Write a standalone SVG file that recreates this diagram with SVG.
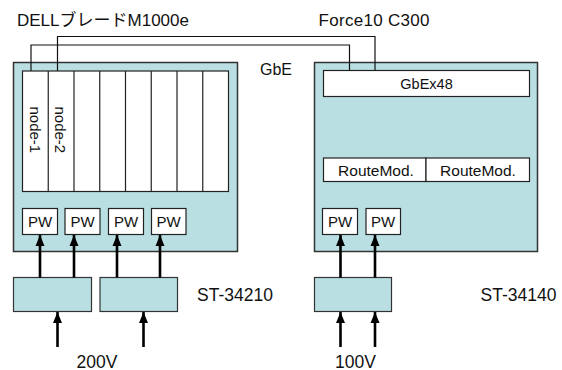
<svg xmlns="http://www.w3.org/2000/svg" width="562" height="370" viewBox="0 0 562 370">
<defs>
<style>
.chassis{fill:#b9dfe2;stroke:#333;stroke-width:1.5}
.psu{fill:#b9dfe2;stroke:#333;stroke-width:1.2}
.wbox{fill:#fff;stroke:#222;stroke-width:1.2}
.div{stroke:#222;stroke-width:1.2}
.link{fill:none;stroke:#111;stroke-width:1.2}
.pwr{fill:none;stroke:#000;stroke-width:2.6;marker-end:url(#ah)}
text{font-family:"Liberation Sans","Noto Sans CJK JP",sans-serif;fill:#111}
.lbl{font-size:17px}
.sm{font-size:15px}
</style>
<marker id="ah" markerUnits="userSpaceOnUse" markerWidth="12" markerHeight="12" viewBox="0 0 12 12" refX="11" refY="6" orient="auto">
<path d="M0,1.5 L11,6 L0,10.5 Z" fill="#000"/>
</marker>
</defs>

<g id="labels">
<text class="lbl" x="17" y="26">DELLブレードM1000e</text>
<text class="lbl" x="318.5" y="25.5" textLength="111" lengthAdjust="spacing">Force10 C300</text>
<text class="lbl" x="260" y="75" style="font-size:16px">GbE</text>
<text class="lbl" x="197" y="225">3+1</text>
<text class="lbl" x="421.5" y="225">1+1</text>
<text class="lbl" x="197" y="301" style="font-size:17.5px">ST-34210</text>
<text class="lbl" x="480.5" y="301" style="font-size:17.5px">ST-34140</text>
<text class="lbl" x="76.5" y="367.5" style="font-size:17.5px">200V</text>
<text class="lbl" x="335" y="367.5" style="font-size:17.5px">100V</text>
</g>

<g id="dell-chassis">
<rect class="chassis" x="13.5" y="62.5" width="224" height="189"/>
<rect class="wbox" x="22.5" y="71" width="206" height="120.5"/>
<line class="div" x1="48.25" y1="71" x2="48.25" y2="191.5"/>
<line class="div" x1="74" y1="71" x2="74" y2="191.5"/>
<line class="div" x1="99.75" y1="71" x2="99.75" y2="191.5"/>
<line class="div" x1="125.5" y1="71" x2="125.5" y2="191.5"/>
<line class="div" x1="151.25" y1="71" x2="151.25" y2="191.5"/>
<line class="div" x1="177" y1="71" x2="177" y2="191.5"/>
<line class="div" x1="202.75" y1="71" x2="202.75" y2="191.5"/>
</g>
<g id="node-1"><text class="sm" transform="translate(30,106.5) rotate(90)">node-1</text></g>
<g id="node-2"><text class="sm" transform="translate(54.5,106.5) rotate(90)">node-2</text></g>
<g id="dell-pw-1"><rect class="wbox" x="22.5" y="208.5" width="35" height="26"/><text class="sm" x="40" y="227" text-anchor="middle">PW</text></g>
<g id="dell-pw-2"><rect class="wbox" x="65" y="208.5" width="35" height="26"/><text class="sm" x="82.5" y="227" text-anchor="middle">PW</text></g>
<g id="dell-pw-3"><rect class="wbox" x="108.5" y="208.5" width="35" height="26"/><text class="sm" x="126" y="227" text-anchor="middle">PW</text></g>
<g id="dell-pw-4"><rect class="wbox" x="151.5" y="208.5" width="34.5" height="26"/><text class="sm" x="168.7" y="227" text-anchor="middle">PW</text></g>

<g id="force10-chassis">
<rect class="chassis" x="314.5" y="62.5" width="223" height="189"/>
</g>
<g id="gbex48"><rect class="wbox" x="323.5" y="70.5" width="206" height="26"/><text class="sm" x="426.5" y="89" text-anchor="middle" style="font-size:14.5px">GbEx48</text></g>
<g id="routemod-1"><rect class="wbox" x="323.5" y="158" width="102.5" height="23.5"/><text class="sm" x="376" y="176" text-anchor="middle" style="font-size:15.5px">RouteMod.</text></g>
<g id="routemod-2"><rect class="wbox" x="426" y="158" width="103.5" height="23.5"/><text class="sm" x="478" y="176" text-anchor="middle" style="font-size:15.5px">RouteMod.</text></g>
<g id="f10-pw-1"><rect class="wbox" x="322.5" y="208.5" width="35" height="26"/><text class="sm" x="340" y="227" text-anchor="middle">PW</text></g>
<g id="f10-pw-2"><rect class="wbox" x="366" y="208.5" width="34.5" height="26"/><text class="sm" x="383.2" y="227" text-anchor="middle">PW</text></g>

<g id="psu-1"><rect class="psu" x="13.5" y="277.5" width="78" height="34"/></g>
<g id="psu-2"><rect class="psu" x="100" y="277.5" width="77.5" height="34"/></g>
<g id="psu-3"><rect class="psu" x="314.5" y="277.5" width="77" height="34"/></g>

<g id="connectors">
<polyline class="link" points="31,71 31,45 349.5,45 349.5,70.5"/>
<polyline class="link" points="57.5,71 57.5,36.5 375,36.5 375,70.5"/>
<line class="pwr" x1="40" y1="277.5" x2="40" y2="235"/>
<line class="pwr" x1="74" y1="277.5" x2="74" y2="235"/>
<line class="pwr" x1="117" y1="277.5" x2="117" y2="235"/>
<line class="pwr" x1="160" y1="277.5" x2="160" y2="235"/>
<line class="pwr" x1="340.5" y1="277.5" x2="340.5" y2="235"/>
<line class="pwr" x1="375" y1="277.5" x2="375" y2="235"/>
<line class="pwr" x1="57.5" y1="347" x2="57.5" y2="312"/>
<line class="pwr" x1="143.5" y1="347" x2="143.5" y2="312"/>
<line class="pwr" x1="340.5" y1="347" x2="340.5" y2="312"/>
<line class="pwr" x1="375" y1="347" x2="375" y2="312"/>
</g>
</svg>
